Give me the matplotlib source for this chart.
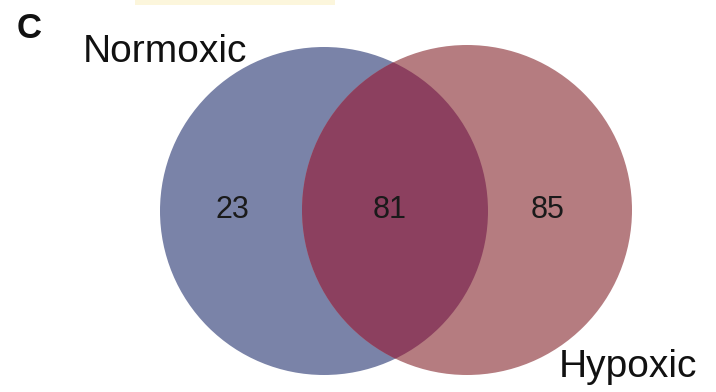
import matplotlib
matplotlib.use("Agg")
import matplotlib.pyplot as plt
from matplotlib.patches import Circle, Rectangle

set_names = ["Normoxic", "Hypoxic"]
region_counts = [23, 81, 85]  # only Normoxic, both, only Hypoxic

plt.rcParams['font.family'] = ['Liberation Sans', 'DejaVu Sans']

fig = plt.figure(figsize=(7.16, 3.92), dpi=100)
ax = fig.add_axes([0, 0, 1, 1])
ax.set_xlim(0, 716)
ax.set_ylim(392, 0)
ax.set_aspect('equal')
ax.axis('off')

# faint yellow strip at top
ax.add_patch(Rectangle((135, -2), 200, 7, facecolor='#fcf6dc', edgecolor='none'))

lc, lr = (324, 211), 164
rc, rr = (467, 210), 165
left = Circle(lc, lr, facecolor='#7a83a8', edgecolor='none')
right = Circle(rc, rr, facecolor='#b57c80', edgecolor='none')
ax.add_patch(left)
ax.add_patch(right)
inter = Circle(rc, rr, facecolor='#8c405f', edgecolor='none')
ax.add_patch(inter)
inter.set_clip_path(Circle(lc, lr, transform=ax.transData))

ax.text(232, 210, str(region_counts[0]), ha='center', va='center', fontsize=22, color='#1a1a1a')
ax.text(390, 210, str(region_counts[1]), ha='center', va='center', fontsize=22, color='#1a1a1a')
ax.text(548, 210, str(region_counts[2]), ha='center', va='center', fontsize=22, color='#1a1a1a')

ax.text(83, 62, set_names[0], ha='left', va='baseline', fontsize=28, color='#111111')
ax.text(559, 377, set_names[1], ha='left', va='baseline', fontsize=28, color='#111111')
ax.text(17, 38, "C", ha='left', va='baseline', fontsize=25, fontweight='bold', color='#111111')

fig.savefig("out.png", dpi=100)
